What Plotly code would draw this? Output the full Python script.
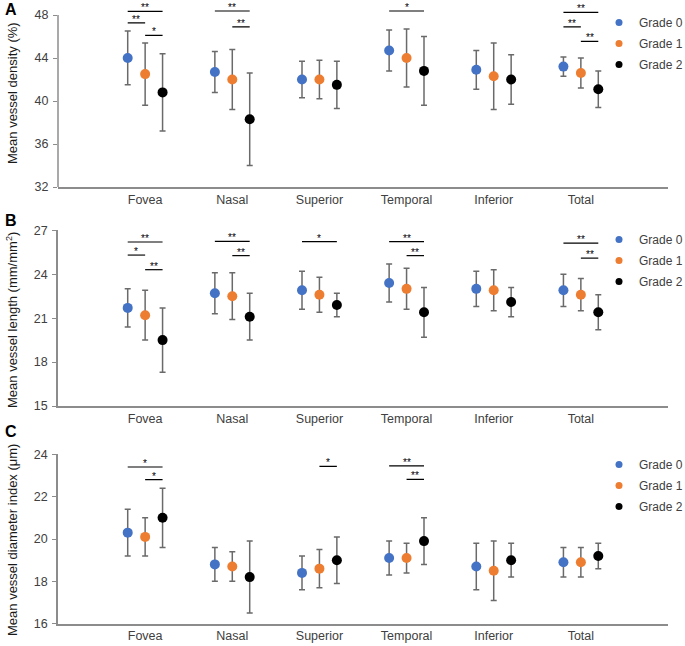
import plotly.graph_objects as go

# ---------------- data ----------------
categories = ["Fovea", "Nasal", "Superior", "Temporal", "Inferior", "Total"]
grades = ["Grade 0", "Grade 1", "Grade 2"]
grade_colors = ["#4472C4", "#ED7D31", "#000000"]

# Panel A: mean vessel density (%)
density_g0 = [44.0, 42.7, 42.0, 44.7, 42.9, 43.2]
density_g0_err = [2.5, 1.9, 1.7, 1.9, 1.8, 0.9]
density_g1 = [42.5, 42.0, 42.0, 44.0, 42.3, 42.6]
density_g1_err = [2.9, 2.8, 1.8, 2.7, 3.1, 1.4]
density_g2 = [40.8, 38.3, 41.5, 42.8, 42.0, 41.1]
density_g2_err = [3.6, 4.3, 2.2, 3.2, 2.3, 1.7]

# Panel B: mean vessel length (mm/mm2)
length_g0 = [21.7, 22.7, 22.9, 23.4, 23.0, 22.9]
length_g0_err = [1.3, 1.4, 1.3, 1.3, 1.2, 1.1]
length_g1 = [21.2, 22.5, 22.6, 23.0, 22.9, 22.6]
length_g1_err = [1.7, 1.6, 1.2, 1.4, 1.4, 1.1]
length_g2 = [19.5, 21.1, 21.9, 21.4, 22.1, 21.4]
length_g2_err = [2.2, 1.6, 0.8, 1.7, 1.0, 1.2]

# Panel C: mean vessel diameter index (um)
diameter_g0 = [20.3, 18.8, 18.4, 19.1, 18.7, 18.9]
diameter_g0_err = [1.1, 0.8, 0.8, 0.8, 1.1, 0.7]
diameter_g1 = [20.1, 18.7, 18.6, 19.1, 18.5, 18.9]
diameter_g1_err = [0.9, 0.7, 0.9, 0.7, 1.4, 0.7]
diameter_g2 = [21.0, 18.2, 19.0, 19.9, 19.0, 19.2]
diameter_g2_err = [1.4, 1.7, 1.1, 1.1, 0.8, 0.6]

# significance brackets: (category index, grade a, grade b, label, bracket level)
density_sig = [(0, 0, 2, "**", 48.34), (0, 0, 1, "**", 47.26), (0, 1, 2, "*", 46.1),
               (1, 0, 2, "**", 48.37), (1, 1, 2, "**", 46.9),
               (3, 0, 2, "*", 48.37),
               (5, 0, 2, "**", 48.25), (5, 0, 1, "**", 46.9), (5, 1, 2, "**", 45.55)]
length_sig = [(0, 0, 2, "**", 26.2), (0, 0, 1, "*", 25.31), (0, 1, 2, "**", 24.31),
              (1, 0, 2, "**", 26.25), (1, 1, 2, "**", 25.27),
              (2, 0, 2, "*", 26.22),
              (3, 0, 2, "**", 26.22), (3, 1, 2, "**", 25.27),
              (5, 0, 2, "**", 26.13), (5, 1, 2, "**", 25.1)]
diameter_sig = [(0, 0, 2, "*", 23.4), (0, 1, 2, "*", 22.8),
                (2, 1, 2, "*", 23.43),
                (3, 0, 2, "**", 23.45), (3, 1, 2, "**", 22.82)]

density_ticks = [32, 36, 40, 44, 48]
length_ticks = [15, 18, 21, 24, 27]
diameter_ticks = [16, 18, 20, 22, 24]

# ---------------- layout helpers ----------------
W, H = 685, 646
FONT = "Arial, Liberation Sans, sans-serif"
AXIS_COLOR = "#8c8c8c"
TEXT_COLOR = "#404040"
offsets = [-0.2, 0.0, 0.2]

panels = [
    dict(letter="A", letter_px=9, means=[density_g0, density_g1, density_g2],
         errs=[density_g0_err, density_g1_err, density_g2_err], sig=density_sig,
         ticks=density_ticks, yrange=[32, 48.8], axis_top=48,
         top_px=6.4, bottom_px=187, title="Mean vessel density (%)", title_px=93,
         legend_px=8),
    dict(letter="B", letter_px=221, means=[length_g0, length_g1, length_g2],
         errs=[length_g0_err, length_g1_err, length_g2_err], sig=length_sig,
         ticks=length_ticks, yrange=[15, 27], axis_top=None,
         top_px=230.3, bottom_px=406, title="Mean vessel length (mm/mm<sup>2</sup>)",
         title_px=320, legend_px=225),
    dict(letter="C", letter_px=432, means=[diameter_g0, diameter_g1, diameter_g2],
         errs=[diameter_g0_err, diameter_g1_err, diameter_g2_err], sig=diameter_sig,
         ticks=diameter_ticks, yrange=[16, 24], axis_top=None,
         top_px=454.3, bottom_px=623.7, title="Mean vessel diameter index (\u03bcm)",
         title_px=540, legend_px=450),
]

x_dom = [58 / W, 668 / W]

fig = go.Figure()
shapes = []
annotations = []
layout_axes = {}

for p_i, p in enumerate(panels):
    n = "" if p_i == 0 else str(p_i + 1)
    xa, ya = "x" + n, "y" + n
    leg = "legend" + n
    for g_i, g in enumerate(grades):
        fig.add_trace(go.Scatter(
            x=[i + offsets[g_i] for i in range(len(categories))],
            y=p["means"][g_i],
            mode="markers",
            marker=dict(size=10, color=grade_colors[g_i]),
            error_y=dict(type="data", array=p["errs"][g_i], color="#6a6a6a",
                         thickness=1.5, width=3),
            xaxis=xa, yaxis=ya, showlegend=False, name=g,
        ))
        # legend entry
        fig.add_trace(go.Scatter(
            x=[None], y=[None], mode="markers",
            marker=dict(size=7, color=grade_colors[g_i]),
            name=g, legend=leg, legendgroup=f"{p['letter']}{g_i}",
            xaxis=xa, yaxis=ya, showlegend=True,
        ))

    dom = [1 - p["bottom_px"] / H, 1 - p["top_px"] / H]
    layout_axes["xaxis" + n] = dict(
        domain=x_dom, anchor=ya, range=[-1, 6],
        tickmode="array", tickvals=list(range(len(categories))), ticktext=categories,
        showline=True, linecolor=AXIS_COLOR, linewidth=1.5, ticks="",
        showgrid=False, zeroline=False, automargin=False,
        tickfont=dict(family=FONT, size=12.5, color=TEXT_COLOR),
        ticklabelstandoff=0,
    )
    layout_axes["yaxis" + n] = dict(
        domain=dom, anchor=xa, range=p["yrange"],
        tickmode="array", tickvals=p["ticks"],
        showline=p["axis_top"] is None, linecolor=AXIS_COLOR, linewidth=1.5,
        ticks="outside", ticklen=4, tickcolor=AXIS_COLOR, tickwidth=1,
        showgrid=False, zeroline=False, automargin=False,
        tickfont=dict(family=FONT, size=12.5, color=TEXT_COLOR),
        ticklabelstandoff=2,
    )
    if p["axis_top"] is not None:
        shapes.append(dict(type="line", xref="paper", yref=ya,
                           x0=x_dom[0], x1=x_dom[0], y0=p["yrange"][0], y1=p["axis_top"],
                           line=dict(color=AXIS_COLOR, width=1.5)))

    # significance brackets
    for cat, a, b, lab, lvl in p["sig"]:
        x0 = cat + offsets[a]
        x1 = cat + offsets[b]
        shapes.append(dict(type="line", xref=xa, yref=ya, x0=x0, x1=x1, y0=lvl, y1=lvl,
                           line=dict(color="#000000", width=1.2)))
        annotations.append(dict(xref=xa, yref=ya, x=(x0 + x1) / 2, y=lvl, text=lab,
                                showarrow=False, yanchor="bottom", yshift=-4,
                                font=dict(family=FONT, size=10, color="#000000")))

    # y axis title
    annotations.append(dict(xref="paper", yref="paper", x=12 / W, y=1 - p["title_px"] / H,
                            text=p["title"], textangle=-90, showarrow=False,
                            xanchor="center", yanchor="middle",
                            font=dict(family=FONT, size=13, color="#1a1a1a")))
    # panel letter
    annotations.append(dict(xref="paper", yref="paper", x=3 / W, y=1 - p["letter_px"] / H,
                            text=f"<b>{p['letter']}</b>", showarrow=False,
                            xanchor="left", yanchor="middle",
                            font=dict(family=FONT, size=16, color="#000000")))

    layout_axes[leg] = dict(
        x=599 / W, y=1 - p["legend_px"] / H, xanchor="left", yanchor="top",
        bgcolor="rgba(0,0,0,0)", tracegroupgap=2, itemwidth=30,
        font=dict(family=FONT, size=12, color=TEXT_COLOR),
    )

fig.update_layout(
    width=W, height=H,
    margin=dict(l=0, r=0, t=0, b=0, autoexpand=False),
    paper_bgcolor="white", plot_bgcolor="white",
    shapes=shapes, annotations=annotations,
    font=dict(family=FONT, color=TEXT_COLOR),
    **layout_axes,
)

fig.write_html("out.html",
               config={"displayModeBar": False},
               post_script="document.body.style.margin='0px';document.body.style.padding='0px';")
